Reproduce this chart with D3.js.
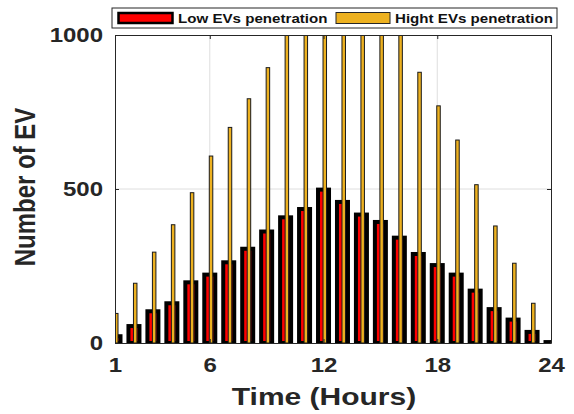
<!DOCTYPE html>
<html>
<head>
<meta charset="utf-8">
<script src="https://cdn.jsdelivr.net/npm/d3@7"></script>
<style>
body { margin: 0; background: #fff; }
text { font-family: "Liberation Sans", Arial, sans-serif; font-weight: bold; }
</style>
</head>
<body>
<svg class="ev" width="574" height="414"></svg>
<script>
// hourly number of EVs
var hours = [1, 2, 3, 4, 5, 6, 7, 8, 9, 10, 11, 12, 13, 14, 15, 16, 17, 18, 19, 20, 21, 22, 23, 24];
var lowEV = [22, 55, 103, 129, 197, 222, 262, 306, 362, 408, 435, 498, 458, 417, 393, 342, 289, 253, 222, 170, 110, 76, 36, 3];
var highEV = [96, 194, 295, 384, 488, 607, 700, 793, 894, 1010, 1070, 1130, 1110, 1080, 1040, 1010, 879, 770, 659, 514, 380, 259, 129, 3];
var seriesNames = ["Low EVs penetration", "Hight EVs penetration"];
var xTicks = [1, 6, 12, 18, 24];
var yTicks = [0, 500, 1000];

var axiscolor = "#262626",
	gridcolor = "#dedede",
	lowcolor = "#ff0000",
	highcolor = "#edb120";

var svg = d3.select(".ev"),
	margin = {
		top: 35,
		right: 23,
		bottom: 71,
		left: 115
	},
	width = +svg.attr("width") - margin.left - margin.right,
	height = +svg.attr("height") - margin.top - margin.bottom,
	g = svg.append("g").attr("transform", "translate(" + margin.left + "," + margin.top + ")");

var x = d3.scaleLinear()
	.domain([1, 24])
	.range([0, width]);
var y = d3.scaleLinear()
	.domain([0, 1000])
	.range([height, 0]);

svg.append("defs").append("clipPath")
	.attr("id", "plotclip")
	.append("rect")
	.attr("width", width)
	.attr("height", height);

// grid
g.append("g").selectAll("line")
	.data(xTicks.slice(1, -1))
	.enter().append("line")
	.attr("x1", function(d) { return x(d); })
	.attr("x2", function(d) { return x(d); })
	.attr("y1", 0)
	.attr("y2", height)
	.attr("stroke", gridcolor);
g.append("g").selectAll("line")
	.data(yTicks.slice(1, -1))
	.enter().append("line")
	.attr("x1", 0)
	.attr("x2", width)
	.attr("y1", function(d) { return y(d); })
	.attr("y2", function(d) { return y(d); })
	.attr("stroke", gridcolor);

var bars = g.append("g").attr("clip-path", "url(#plotclip)");
bars.selectAll(".low")
	.data(hours)
	.enter().append("rect")
	.attr("class", "low")
	.attr("x", function(d) { return x(d) - 5.5; })
	.attr("width", 11)
	.attr("y", function(d, i) { return y(lowEV[i]); })
	.attr("height", function(d, i) { return height - y(lowEV[i]); })
	.attr("fill", lowcolor)
	.attr("stroke", "#000")
	.attr("stroke-width", 4);
bars.selectAll(".high")
	.data(hours)
	.enter().append("rect")
	.attr("class", "high")
	.attr("x", function(d) { return x(d) - 0.5; })
	.attr("width", 3.5)
	.attr("y", function(d, i) { return y(highEV[i]); })
	.attr("height", function(d, i) { return height - y(highEV[i]); })
	.attr("fill", highcolor)
	.attr("stroke", "#1a1a1a")
	.attr("stroke-width", 1);

// axes, ticks pointing inward like matlab
var botAxis = g.append("g")
	.attr("transform", "translate(0," + height + ")")
	.call(d3.axisBottom(x).tickValues(xTicks).tickSizeInner(-4).tickSizeOuter(0).tickPadding(15));
var leftAxis = g.append("g")
	.call(d3.axisLeft(y).tickValues(yTicks).tickFormat(d3.format("d")).tickSizeInner(-4).tickSizeOuter(0).tickPadding(10));
var topAxis = g.append("g")
	.call(d3.axisTop(x).tickValues(xTicks).tickSizeInner(-4).tickSizeOuter(0).tickFormat(""));
var rightAxis = g.append("g")
	.attr("transform", "translate(" + width + ",0)")
	.call(d3.axisRight(y).tickValues(yTicks).tickSizeInner(-4).tickSizeOuter(0).tickFormat(""));
[botAxis, leftAxis, topAxis, rightAxis].forEach(function(a) {
	a.selectAll("line").style("stroke", axiscolor);
	a.selectAll("path").style("stroke", axiscolor);
	a.selectAll("text")
		.style("fill", axiscolor)
		.style("font-family", "'Liberation Sans', Arial, sans-serif")
		.style("font-weight", "bold")
		.style("font-size", "20px")
		.attr("transform", "scale(1.2,1)");
});

svg.append("text")
	.attr("transform", "translate(" + (margin.left + width / 2 - 9) + ",405) scale(1.25,1)")
	.attr("text-anchor", "middle")
	.style("font-size", "24px")
	.style("fill", axiscolor)
	.text("Time (Hours)");
svg.append("text")
	.attr("transform", "translate(35,187) scale(1.25,1) rotate(-90)")
	.attr("text-anchor", "middle")
	.style("font-size", "24px")
	.style("fill", axiscolor)
	.text("Number of EV");

// legend
var legend = svg.append("g");
legend.append("rect")
	.attr("x", 112)
	.attr("y", 8)
	.attr("width", 445)
	.attr("height", 20)
	.attr("fill", "#fff")
	.attr("stroke", axiscolor);
legend.append("rect")
	.attr("x", 118.5)
	.attr("y", 13)
	.attr("width", 54)
	.attr("height", 10)
	.attr("fill", lowcolor)
	.attr("stroke", "#000")
	.attr("stroke-width", 2.5);
legend.append("rect")
	.attr("x", 336)
	.attr("y", 12.5)
	.attr("width", 54)
	.attr("height", 11)
	.attr("fill", highcolor)
	.attr("stroke", axiscolor);
legend.selectAll(".ltext")
	.data(seriesNames)
	.enter().append("text")
	.attr("class", "ltext")
	.attr("transform", function(d, i) { return "translate(" + [178, 395][i] + ",23) scale(1.12,1)"; })
	.style("font-size", "13.5px")
	.style("fill", "#111")
	.text(function(d) { return d; });
</script>
</body>
</html>
